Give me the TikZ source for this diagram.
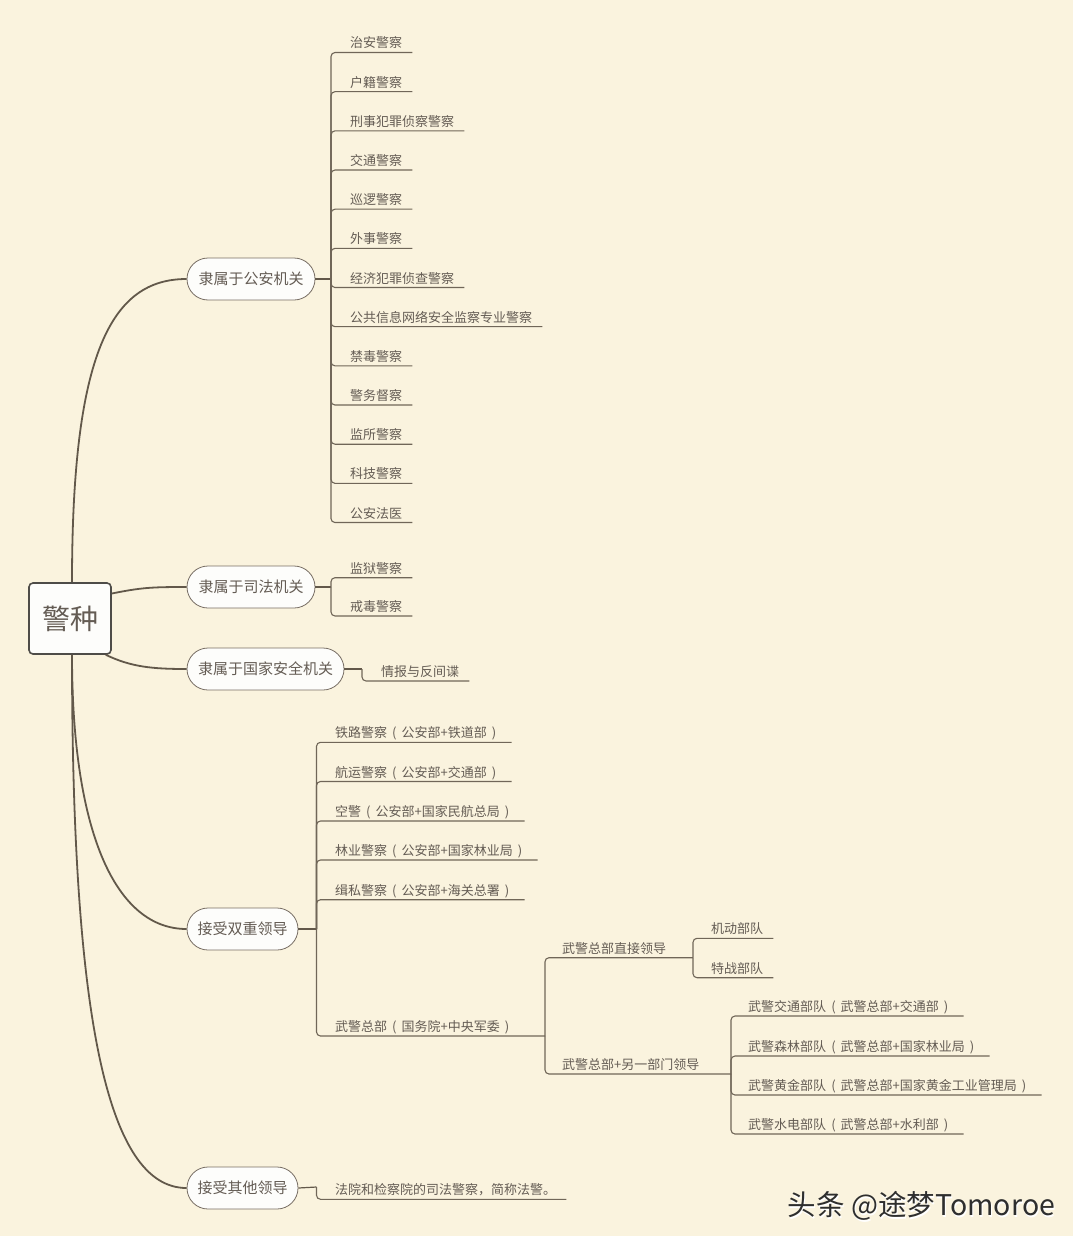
\documentclass[tikz,border=0pt]{standalone}
\usepackage{fontspec}
\setmainfont{Noto Sans CJK SC}
\definecolor{bgc}{RGB}{250,243,222}
\definecolor{linec}{RGB}{98,88,74}
\definecolor{ulinec}{RGB}{112,102,88}
\definecolor{txtc}{RGB}{100,92,84}
\definecolor{pillc}{RGB}{120,110,100}
\definecolor{rootc}{RGB}{78,76,72}
\definecolor{boxfill}{RGB}{253,253,251}
\newcommand\mmlp{\makebox[14.5pt]{(}}
\newcommand\mmrp{\makebox[14.5pt]{)}}
\newcommand\mmleaf[6]{%
  \node[leaf] (#1) at ({#4-10},{#5-4.5}) {#6};
  \draw[uline] (#2,#3) -- (#2,#5) -- ([yshift=-4.5pt]#1.base east);}
\newcommand\mmmid[7]{%
  \node[leaf] (#1) at ({#4-10},{#5-4.5}) {#6};
  \draw[uline] (#2,#3) -- (#2,#5) -- (#7,#5);}
\begin{document}
\begin{tikzpicture}[x=1pt,y=-1pt,
  leaf/.style={anchor=base west,inner xsep=10pt,inner ysep=2pt,text=txtc,font=\fontsize{13}{15}\selectfont},
  uline/.style={draw=ulinec,line width=1.1pt,rounded corners=4pt},
  stub/.style={draw=linec,line width=1.2pt},
  pill/.style={draw=pillc,line width=0.8pt,fill=boxfill,rounded corners=21pt,minimum height=42pt,inner sep=0pt,text=txtc,font=\fontsize{15}{17}\selectfont},
  rootbox/.style={draw=rootc,line width=1.6pt,fill=boxfill,rounded corners=4pt,minimum width=82pt,minimum height=71pt,inner sep=0pt,text=txtc,font=\fontsize{28}{32}\selectfont},
  trunk/.style={draw=linec,line width=1.8pt},
  wmark/.style={font=\fontsize{28.5}{32}\selectfont}]
\useasboundingbox (0,0) rectangle (1080,1244);
\fill[white] (0,0) rectangle (1080,1244);
\fill[bgc] (0,0) rectangle (1073,1236);

% root and main branches
\node[rootbox] (root) at (70,618.5) {警种};
\node[pill,minimum width=128pt] (b1) at (251,279) {隶属于公安机关};
\node[pill,minimum width=128pt] (b2) at (251,587) {隶属于司法机关};
\node[pill,minimum width=157pt] (b3) at (265.5,669) {隶属于国家安全机关};
\node[pill,minimum width=111pt] (b4) at (242.5,929) {接受双重领导};
\node[pill,minimum width=111pt] (b5) at (242.5,1188) {接受其他领导};

\draw[trunk] ([xshift=2pt]root.north) .. controls +(0,-230) and +(-75,0) .. (b1.west);
\draw[trunk] ([yshift=25pt]root.east) .. controls +(30,-6) and +(-35,0) .. (b2.west);
\draw[trunk] ([xshift=-6pt]root.south east) .. controls +(25,12) and +(-35,0) .. (b3.west);
\draw[trunk] ([xshift=2pt]root.south) .. controls +(0,180) and +(-70,0) .. (b4.west);
\draw[trunk] ([xshift=2pt]root.south) .. controls +(0,360) and +(-80,0) .. (b5.west);

% branch 1
\draw[stub] (b1.east) -- (331,279);
\foreach \t [count=\i from 0] in {治安警察,户籍警察,刑事犯罪侦察警察,交通警察,巡逻警察,外事警察,经济犯罪侦查警察,公共信息网络安全监察专业警察,禁毒警察,警务督察,监所警察,科技警察,公安法医}{
  \mmleaf{a\i}{331}{279}{350}{52.5+39.17*\i}{\t}
}

% branch 2
\draw[stub] (b2.east) -- (331,587);
\mmleaf{s1}{331}{587}{350}{577.7}{监狱警察}
\mmleaf{s2}{331}{587}{350}{616}{戒毒警察}

% branch 3
\draw[stub] (b3.east) -- (362,669);
\mmleaf{g1}{362}{669}{381}{681}{情报与反间谍}

% branch 4
\draw[stub] (b4.east) -- (316.5,929);
\mmleaf{d1}{316.5}{929}{335}{742.3}{铁路警察\mmlp 公安部+铁道部\mmrp}
\mmleaf{d2}{316.5}{929}{335}{781.5}{航运警察\mmlp 公安部+交通部\mmrp}
\mmleaf{d3}{316.5}{929}{335}{821}{空警\mmlp 公安部+国家民航总局\mmrp}
\mmleaf{d4}{316.5}{929}{335}{860}{林业警察\mmlp 公安部+国家林业局\mmrp}
\mmleaf{d5}{316.5}{929}{335}{899.7}{缉私警察\mmlp 公安部+海关总署\mmrp}
\mmmid{d6}{316.5}{929}{335}{1036}{武警总部\mmlp 国务院+中央军委\mmrp}{545}

\mmmid{w1}{545}{1036}{562}{957.7}{武警总部直接领导}{693}
\mmmid{w2}{545}{1036}{562}{1074}{武警总部+另一部门领导}{731}

\mmleaf{x1}{693}{957.7}{711}{938.3}{机动部队}
\mmleaf{x2}{693}{957.7}{711}{977.7}{特战部队}

\mmleaf{y1}{731}{1074}{748}{1016}{武警交通部队\mmlp 武警总部+交通部\mmrp}
\mmleaf{y2}{731}{1074}{748}{1056}{武警森林部队\mmlp 武警总部+国家林业局\mmrp}
\mmleaf{y3}{731}{1074}{748}{1095}{武警黄金部队\mmlp 武警总部+国家黄金工业管理局\mmrp}
\mmleaf{y4}{731}{1074}{748}{1134}{武警水电部队\mmlp 武警总部+水利部\mmrp}

% branch 5
\draw[stub] (b5.east) -- (316.5,1187);
\mmleaf{o1}{316.5}{1187}{335}{1199.3}{法院和检察院的司法警察，简称法警。}

% watermark
\node[wmark,text=white] (wm0) at (922.5,1207.5) {头条 @途梦Tomoroe};
\node[wmark,text=black!82] (wm) at (921.5,1206) {头条 @途梦Tomoroe};
\end{tikzpicture}
\end{document}
